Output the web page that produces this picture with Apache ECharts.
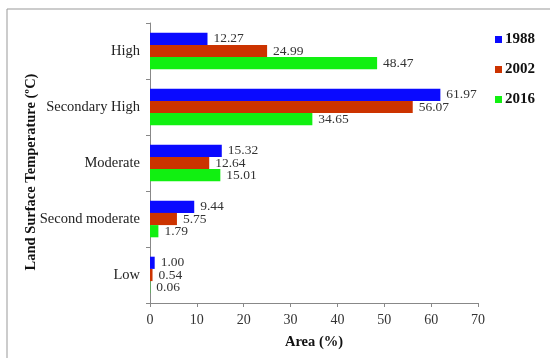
<!DOCTYPE html>
<html><head><meta charset="utf-8">
<script src="https://cdn.jsdelivr.net/npm/echarts@6/dist/echarts.min.js"></script>
<style>html,body{margin:0;padding:0;background:#fff}#c{width:550px;height:358px}</style>
</head><body><div id="c"></div>
<script>
var categories = ['High', 'Secondary High', 'Moderate', 'Second moderate', 'Low'];
var years = ['1988', '2002', '2016'];
var v1988 = [12.27, 61.97, 15.32, 9.44, 1.00];
var v2002 = [24.99, 56.07, 12.64, 5.75, 0.54];
var v2016 = [48.47, 34.65, 15.01, 1.79, 0.06];
var yTitle = 'Land Surface Temperature (ºC)';
var xTitle = 'Area (%)';
var colors = ['#0a0aff', '#cc3300', '#11f011'];
var font = '"Liberation Serif", "Times New Roman", serif';

var chart = echarts.init(document.getElementById('c'));
function mk(name, data, color) {
  return {
    name: name, type: 'bar', data: data, barWidth: 12.2, barGap: '0%',
    itemStyle: { color: color },
    label: { show: true, position: 'right', distance: 6, fontFamily: font, fontSize: 13.5, color: '#333',
      formatter: function (p) { return p.value.toFixed(2); } }
  };
}
chart.setOption({
  animation: false,
  graphic: [
    { type: 'rect', shape: { x: 7, y: 9, width: 560, height: 360 }, style: { fill: 'none', stroke: '#999', lineWidth: 1 }, silent: true },
    { type: 'text', x: 31, y: 172, rotation: Math.PI / 2, silent: true,
      style: { text: yTitle, font: 'bold 14.5px ' + font, fill: '#111', align: 'center', verticalAlign: 'middle' } }
  ],
  grid: { left: 150, right: 72, top: 23, bottom: 55 },
  legend: {
    data: years, orient: 'vertical', left: 490, top: 27, itemWidth: 7, itemHeight: 7, itemGap: 15,
    icon: 'rect',
    textStyle: { fontFamily: font, fontSize: 15, fontWeight: 'bold', color: '#111', padding: [0, 0, 0, -2] }
  },
  xAxis: {
    type: 'value', min: 0, max: 70, interval: 10,
    name: xTitle, nameLocation: 'middle', nameGap: 32,
    nameTextStyle: { fontFamily: font, fontSize: 14.5, fontWeight: 'bold', color: '#111' },
    axisLine: { show: true, lineStyle: { color: '#888' } },
    axisTick: { show: true, length: 4, lineStyle: { color: '#888' } },
    axisLabel: { fontFamily: font, fontSize: 14, color: '#333', margin: 10 },
    splitLine: { show: false }
  },
  yAxis: {
    type: 'category', data: categories, inverse: true,
    axisLine: { show: true, lineStyle: { color: '#888' } },
    axisTick: { show: true, length: 4, lineStyle: { color: '#888' } },
    axisLabel: { fontFamily: font, fontSize: 14.5, color: '#222', margin: 10 }
  },
  series: [mk(years[0], v1988, colors[0]), mk(years[1], v2002, colors[1]), mk(years[2], v2016, colors[2])]
});
</script></body></html>
